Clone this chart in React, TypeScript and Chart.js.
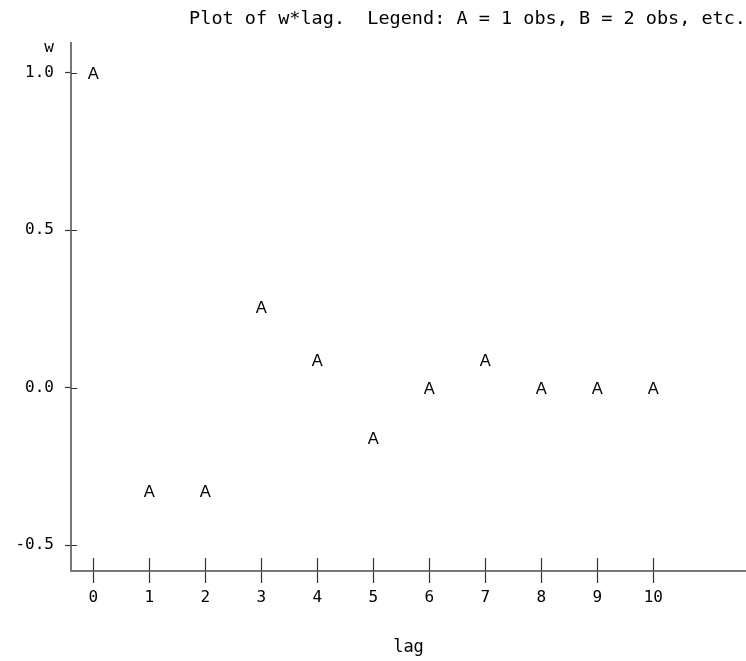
import React, { useEffect, useRef } from "react";
import { Chart, registerables } from "chart.js";

Chart.register(...registerables);

const TITLE = "Plot of w*lag.  Legend: A = 1 obs, B = 2 obs, etc.";
const Y_VAR = "w";
const X_VAR = "lag";
const MARKER = "A";

const LAGS = [0, 1, 2, 3, 4, 5, 6, 7, 8, 9, 10];
const W = [1.0, -0.329, -0.329, 0.255, 0.089, -0.161, 0.0, 0.089, 0.0, 0.0, 0.0];

const X_TICKS = [0, 1, 2, 3, 4, 5, 6, 7, 8, 9, 10];
const Y_TICKS = [-0.5, 0.0, 0.5, 1.0];
const Y_LABEL_POS = 1.08; // where the variable name "w" sits on the y axis

const X_MIN = -0.398;
const X_MAX = 11.655;
const Y_MIN = -0.582;
const Y_MAX = 1.094;

const MONO = "'DejaVu Sans Mono', monospace";
const MARK_FONT = "16.5px 'Liberation Sans', Arial, sans-serif";

const letterMarkers = {
  id: "letterMarkers",
  afterDatasetsDraw(chart: any) {
    const { ctx } = chart;
    ctx.save();
    ctx.fillStyle = "#000";
    ctx.font = MARK_FONT;
    ctx.textAlign = "center";
    ctx.textBaseline = "alphabetic";
    chart.getSortedVisibleDatasetMetas().forEach((meta: any) => {
      meta.data.forEach((el: any) => {
        ctx.fillText(MARKER, el.x, el.y + (16.5 * 0.716) / 2);
      });
    });
    ctx.restore();
  },
};

const innerTicks = {
  id: "innerTicks",
  afterDraw(chart: any) {
    const { ctx, chartArea, scales } = chart;
    ctx.save();
    ctx.strokeStyle = "#333";
    ctx.lineWidth = 1.2;
    ctx.beginPath();
    for (const v of X_TICKS) {
      const px = Math.round(scales.x.getPixelForValue(v)) + 0.5;
      ctx.moveTo(px, chartArea.bottom);
      ctx.lineTo(px, chartArea.bottom - 13);
    }
    for (const v of Y_TICKS) {
      const py = Math.round(scales.y.getPixelForValue(v)) + 0.5;
      ctx.moveTo(chartArea.left, py);
      ctx.lineTo(chartArea.left + 6, py);
    }
    ctx.stroke();
    ctx.restore();
  },
};

export default function App() {
  const ref = useRef<HTMLCanvasElement | null>(null);

  useEffect(() => {
    if (!ref.current) return;
    const chart = new Chart(ref.current, {
      type: "scatter",
      data: {
        datasets: [
          {
            data: LAGS.map((x, i) => ({ x, y: W[i] })),
            pointRadius: 0,
            pointHoverRadius: 0,
            showLine: false,
          },
        ],
      },
      options: {
        animation: false,
        responsive: false,
        devicePixelRatio: 1,
        events: [],
        layout: { padding: 0, autoPadding: false },
        plugins: {
          legend: { display: false },
          tooltip: { enabled: false },
          title: {
            display: true,
            text: TITLE,
            align: "end",
            color: "#000",
            font: { family: MONO, size: 18.5, weight: "normal", lineHeight: 1.2 },
            padding: { top: 8, bottom: 12.8 },
          },
        },
        scales: {
          x: {
            type: "linear",
            position: "bottom",
            min: X_MIN,
            max: X_MAX,
            afterBuildTicks: (s: any) => {
              s.ticks = X_TICKS.map((v) => ({ value: v }));
            },
            afterFit: (s: any) => {
              s.height = 90;
            },
            ticks: {
              color: "#000",
              font: { family: MONO, size: 16 },
              padding: 5,
              maxRotation: 0,
              autoSkip: false,
              callback: (v: any) => String(v),
            },
            grid: {
              drawOnChartArea: false,
              drawTicks: true,
              tickLength: 12,
              tickColor: "#333",
              tickWidth: 1.2,
            },
            border: { display: true, color: "#777", width: 2 },
            title: {
              display: true,
              text: X_VAR,
              color: "#000",
              font: { family: MONO, size: 17 },
              padding: { top: 4, bottom: 3 },
            },
          },
          y: {
            type: "linear",
            position: "left",
            min: Y_MIN,
            max: Y_MAX,
            afterBuildTicks: (s: any) => {
              s.ticks = [...Y_TICKS, Y_LABEL_POS].map((v) => ({ value: v }));
            },
            afterFit: (s: any) => {
              s.width = 71;
            },
            ticks: {
              color: "#000",
              font: { family: MONO, size: 16 },
              padding: 11,
              autoSkip: false,
              callback: (v: any) => (v === Y_LABEL_POS ? Y_VAR : Number(v).toFixed(1)),
            },
            grid: {
              drawOnChartArea: false,
              drawTicks: true,
              tickLength: 6,
              tickWidth: 1.2,
              tickColor: (c: any) =>
                c.tick && c.tick.value === Y_LABEL_POS ? "rgba(0,0,0,0)" : "#333",
            },
            border: { display: true, color: "#777", width: 2 },
          },
        },
      },
      plugins: [letterMarkers, innerTicks],
    });
    return () => chart.destroy();
  }, []);

  return (
    <div style={{ position: "absolute", left: 0, top: 0, width: 746, height: 661, background: "#fff" }}>
      <canvas ref={ref} width={746} height={661} style={{ display: "block" }} />
    </div>
  );
}
